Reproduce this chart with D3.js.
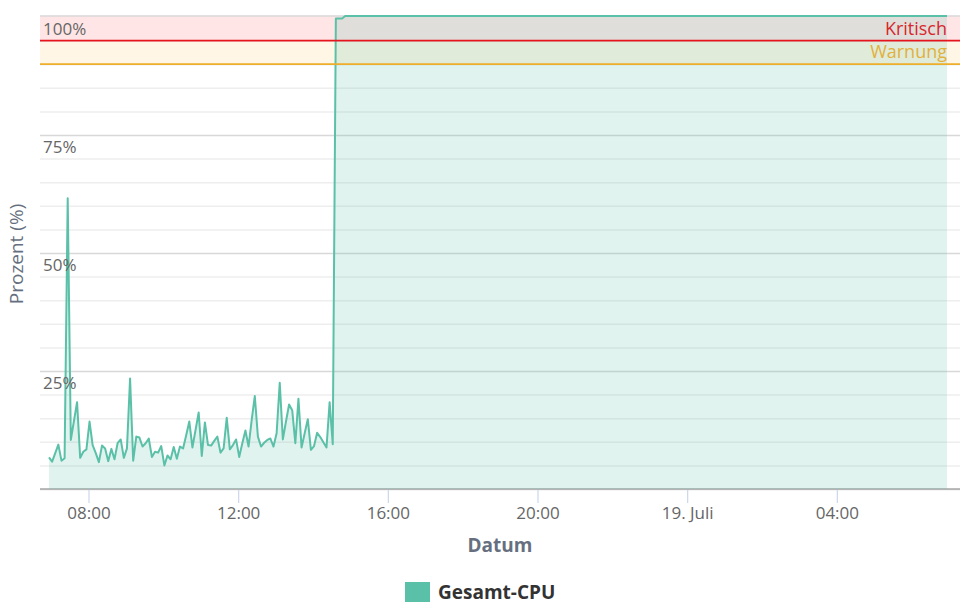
<!DOCTYPE html>
<html>
<head>
<meta charset="utf-8">
<script src="https://cdn.jsdelivr.net/npm/d3@7"></script>
<style>
	body { margin: 0; background: #fff; }
	svg { display: block; }
	text { font-family: "Open Sans", sans-serif; }
</style>
</head>
<body>
<svg id="chart" width="960" height="616"></svg>
<script>
// CPU load in percent, one value every 5 minutes from the start time
var cpuValues = [6.7, 5.8, 7.6, 9.4, 6.0, 6.5, 61.6, 10.4, 14.4, 18.4,
	6.6, 7.9, 8.4, 14.3, 9.3, 7.6, 5.7, 9.2, 8.6, 5.9,
	8.5, 6.3, 9.7, 10.5, 6.6, 8.6, 23.4, 6.0, 11.1, 10.9,
	9.0, 9.7, 10.7, 6.8, 7.9, 7.7, 9.1, 5.0, 7.1, 6.3,
	8.9, 6.4, 9.0, 8.6, 11.4, 14.3, 8.8, 12.5, 16.2, 7.0,
	14.1, 9.3, 9.2, 10.2, 11.1, 7.7, 8.6, 15.1, 8.4, 9.3,
	10.5, 6.8, 9.7, 12.4, 9.0, 14.6, 19.7, 11.1, 9.0, 9.8,
	10.4, 10.7, 9.0, 11.8, 22.5, 10.5, 14.3, 17.9, 16.7, 9.7,
	19.1, 8.8, 11.8, 14.8, 8.3, 9.1, 11.9, 11.0, 9.9, 8.8,
	18.4, 9.5, 99.7, 99.7, 99.7, 100.2, 100.2];
var startTime = Date.UTC(2022, 6, 18, 6, 56, 40);
var endTime = Date.UTC(2022, 6, 19, 6, 56, 40);
var endValue = 100.2;

var xTicks = [Date.UTC(2022, 6, 18, 8), Date.UTC(2022, 6, 18, 12), Date.UTC(2022, 6, 18, 16),
	Date.UTC(2022, 6, 18, 20), Date.UTC(2022, 6, 19, 0), Date.UTC(2022, 6, 19, 4)];
var xTickLabels = ["08:00", "12:00", "16:00", "20:00", "19. Juli", "04:00"];
var yMax = 100.3;
var yMajorTicks = [0, 25, 50, 75, yMax];
var yMinorTicks = [5, 10, 15, 20, 30, 35, 40, 45, 55, 60, 65, 70, 80, 85, 90, 95];
var yLabelTicks = [25, 50, 75, 100];

var criticalLevel = 95;
var warningLevel = 90;

var teal = "#5bc0a8";
var plotLeft = 40, plotRight = 960, plotTop = 15.6, plotBottom = 489;

var svg = d3.select("#chart");

var x = d3.scaleUtc().domain([startTime, endTime]).range([49, 947]);
var y = d3.scaleLinear().domain([0, yMax]).range([plotBottom, plotTop]);

var points = cpuValues.map(function(v, i) {
	return { t: startTime + i * 300000, v: v };
});
points.push({ t: endTime, v: endValue });

// threshold bands sit under everything
svg.append("rect")
	.attr("x", plotLeft).attr("width", plotRight - plotLeft)
	.attr("y", y(yMax)).attr("height", y(criticalLevel) - y(yMax))
	.attr("fill", "#ffe5e5");
svg.append("rect")
	.attr("x", plotLeft).attr("width", plotRight - plotLeft)
	.attr("y", y(criticalLevel)).attr("height", y(warningLevel) - y(criticalLevel))
	.attr("fill", "#fff6e5");

// gridlines
var minorGrid = svg.append("g")
	.attr("transform", "translate(" + plotLeft + ",0)")
	.call(d3.axisLeft(y).tickValues(yMinorTicks).tickSize(plotLeft - plotRight).tickFormat(""));
minorGrid.select(".domain").remove();
minorGrid.selectAll("line").attr("stroke", "#eeeeee").attr("stroke-width", 1.5);

var majorGrid = svg.append("g")
	.attr("transform", "translate(" + plotLeft + ",0)")
	.call(d3.axisLeft(y).tickValues(yMajorTicks).tickSize(plotLeft - plotRight).tickFormat(""));
majorGrid.select(".domain").remove();
majorGrid.selectAll("line").attr("stroke", "#d8d8d8").attr("stroke-width", 1.5);

// x axis
var xAxis = svg.append("g")
	.attr("transform", "translate(0," + plotBottom + ")")
	.call(d3.axisBottom(x).tickValues(xTicks).tickSize(14).tickPadding(4)
		.tickFormat(function(d, i) { return xTickLabels[i]; }));
xAxis.select(".domain").remove();
xAxis.selectAll("line").attr("stroke", "#ccd6eb").attr("stroke-width", 1.2);
xAxis.selectAll("text").attr("fill", "#666666").style("font-size", "17px");

svg.append("line")
	.attr("x1", plotLeft).attr("x2", plotRight)
	.attr("y1", plotBottom).attr("y2", plotBottom)
	.attr("stroke", "#a8a8a8").attr("stroke-width", 1.5);

// series
var area = d3.area()
	.x(function(d) { return x(d.t); })
	.y0(y(0))
	.y1(function(d) { return y(d.v); });
var line = d3.line()
	.x(function(d) { return x(d.t); })
	.y(function(d) { return y(d.v); });

svg.append("path").datum(points)
	.attr("d", area)
	.attr("fill", teal)
	.attr("fill-opacity", 0.19);
svg.append("path").datum(points)
	.attr("d", line)
	.attr("fill", "none")
	.attr("stroke", teal)
	.attr("stroke-width", 2)
	.attr("stroke-linejoin", "round");

// threshold lines
svg.append("line")
	.attr("x1", plotLeft).attr("x2", plotRight)
	.attr("y1", y(criticalLevel)).attr("y2", y(criticalLevel))
	.attr("stroke", "#e8141c").attr("stroke-width", 1.8);
svg.append("line")
	.attr("x1", plotLeft).attr("x2", plotRight)
	.attr("y1", y(warningLevel)).attr("y2", y(warningLevel))
	.attr("stroke", "#eeae2a").attr("stroke-width", 1.8);

svg.append("text")
	.attr("x", 947).attr("y", y(criticalLevel) - 6)
	.attr("text-anchor", "end").attr("fill", "#d8272d")
	.style("font-size", "18px").text("Kritisch");
svg.append("text")
	.attr("x", 947).attr("y", y(warningLevel) - 6)
	.attr("text-anchor", "end").attr("fill", "#e2b13c")
	.style("font-size", "18px").text("Warnung");

// y labels sit inside the plot just under their gridline
svg.selectAll(".ylabel")
	.data(yLabelTicks)
	.enter()
	.append("text")
	.attr("class", "ylabel")
	.attr("x", 43)
	.attr("y", function(d) { return y(d) + 18; })
	.attr("fill", "#666666")
	.style("font-size", "17px")
	.text(function(d) { return d + "%"; });

// axis titles
svg.append("text")
	.attr("transform", "translate(23,254) rotate(-90)")
	.attr("text-anchor", "middle")
	.attr("fill", "#666f80")
	.style("font-size", "19px")
	.text("Prozent (%)");
svg.append("text")
	.attr("x", 500).attr("y", 552)
	.attr("text-anchor", "middle")
	.attr("fill", "#666f80")
	.style("font-size", "19px")
	.style("font-weight", "700")
	.text("Datum");

// legend
svg.append("rect")
	.attr("x", 405).attr("y", 582)
	.attr("width", 25).attr("height", 20)
	.attr("fill", teal);
svg.append("text")
	.attr("x", 438).attr("y", 599)
	.attr("fill", "#333333")
	.style("font-size", "19px")
	.style("font-weight", "700")
	.text("Gesamt-CPU");
</script>
</body>
</html>
